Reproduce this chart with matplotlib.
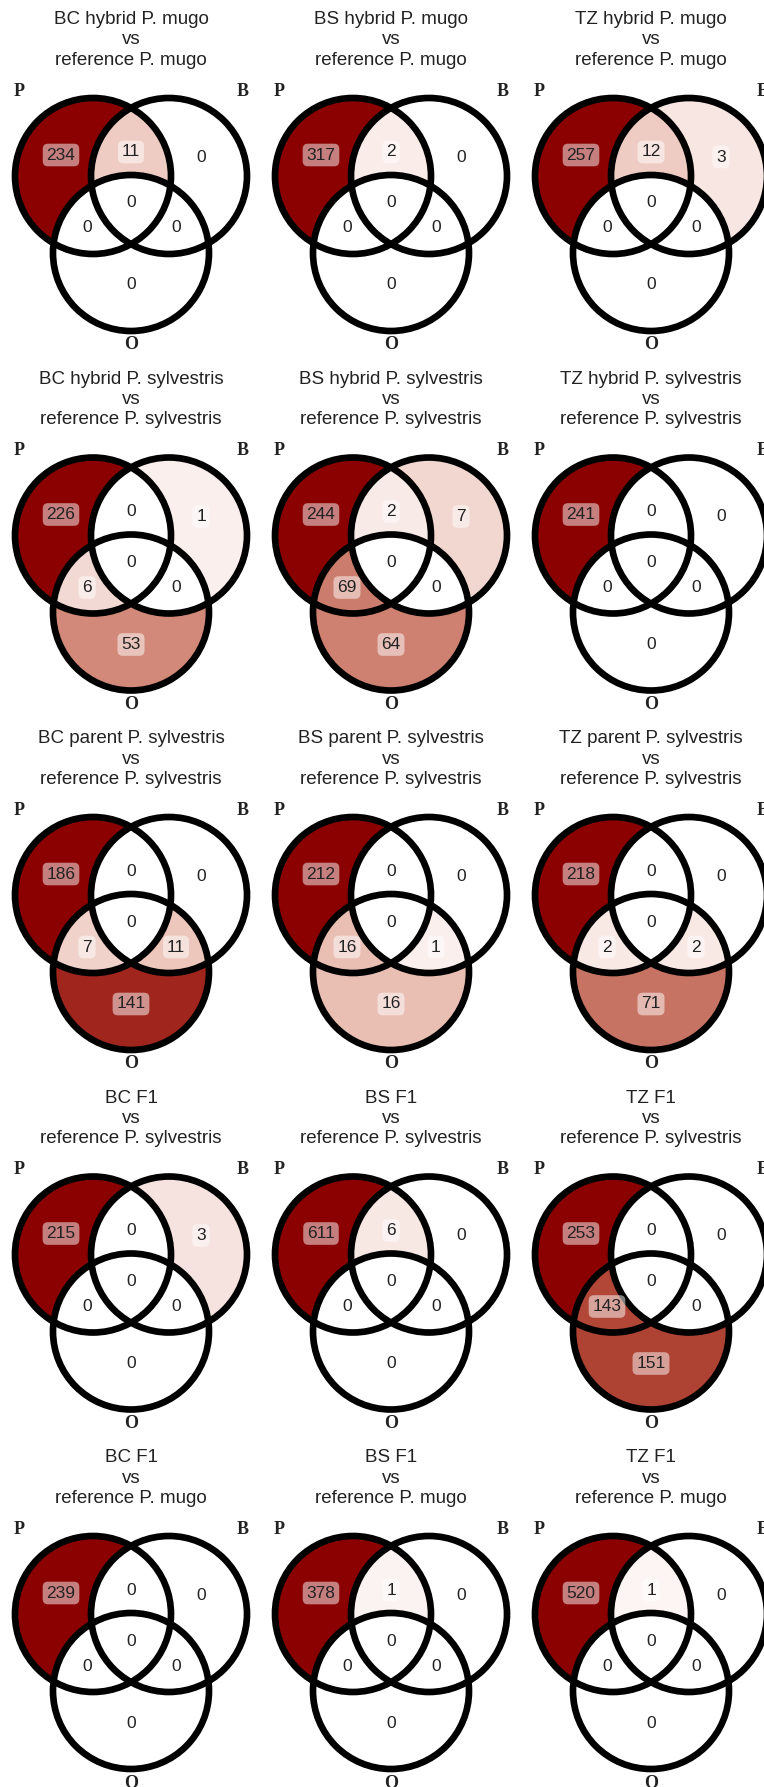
import numpy as np
import matplotlib
matplotlib.use("Agg")
import matplotlib.pyplot as plt
from matplotlib.patches import Circle, Polygon
from matplotlib.colors import LinearSegmentedColormap, PowerNorm

# Region order: P only, B only, P&B, O only, P&O, B&O, P&B&O
REGIONS = ["100", "010", "110", "001", "101", "011", "111"]

titles = [
    "BC hybrid P. mugo\nvs\nreference P. mugo",
    "BS hybrid P. mugo\nvs\nreference P. mugo",
    "TZ hybrid P. mugo\nvs\nreference P. mugo",
    "BC hybrid P. sylvestris\nvs\nreference P. sylvestris",
    "BS hybrid P. sylvestris\nvs\nreference P. sylvestris",
    "TZ hybrid P. sylvestris\nvs\nreference P. sylvestris",
    "BC parent P. sylvestris\nvs\nreference P. sylvestris",
    "BS parent P. sylvestris\nvs\nreference P. sylvestris",
    "TZ parent P. sylvestris\nvs\nreference P. sylvestris",
    "BC F1\nvs\nreference P. sylvestris",
    "BS F1\nvs\nreference P. sylvestris",
    "TZ F1\nvs\nreference P. sylvestris",
    "BC F1\nvs\nreference P. mugo",
    "BS F1\nvs\nreference P. mugo",
    "TZ F1\nvs\nreference P. mugo",
]

only_p = [234, 317, 257, 226, 244, 241, 186, 212, 218, 215, 611, 253, 239, 378, 520]
only_b = [0, 0, 3, 1, 7, 0, 0, 0, 0, 3, 0, 0, 0, 0, 0]
p_and_b = [11, 2, 12, 0, 2, 0, 0, 0, 0, 0, 6, 0, 0, 1, 1]
only_o = [0, 0, 0, 53, 64, 0, 141, 16, 71, 0, 0, 151, 0, 0, 0]
p_and_o = [0, 0, 0, 6, 69, 0, 7, 16, 2, 0, 0, 143, 0, 0, 0]
b_and_o = [0, 0, 0, 0, 0, 0, 11, 1, 2, 0, 0, 0, 0, 0, 0]
all_three = [0] * 15

set_names = ["P", "B", "O"]

cmap = LinearSegmentedColormap.from_list(
    "white_darkred",
    [(0.0, "#ffffff"), (0.25, "#ecc4ba"), (0.5, "#d08474"),
     (0.75, "#b24838"), (1.0, "#8b0000")],
)

W, H = 764, 1787
CELL_W, CELL_H = 260.0, 359.5
R = 78.0
CENTERS = {"P": np.array([93.0, 176.0]),
           "B": np.array([169.0, 176.0]),
           "O": np.array([131.0, 253.0])}
LABEL_POS = {"100": (61, 155), "010": (201, 157), "110": (131, 152),
             "001": (131, 285), "101": (87, 228), "011": (176, 228),
             "111": (131, 203)}
NAME_POS = {"P": (19, 91), "B": (243, 91), "O": (131, 345)}

TXT = "#222222"
SANS = "Liberation Sans"
SERIF = "Liberation Serif"


def intersection_polygon(names, n=1440):
    """Convex polygon of the intersection of the named circles."""
    pts = []
    th = np.linspace(0, 2 * np.pi, n, endpoint=False)
    for nm in names:
        c = CENTERS[nm]
        ring = c + R * np.column_stack([np.cos(th), np.sin(th)])
        keep = np.ones(len(ring), bool)
        for other in names:
            if other == nm:
                continue
            keep &= np.hypot(*(ring - CENTERS[other]).T) <= R + 1e-9
        pts.append(ring[keep])
    pts = np.vstack(pts)
    ctr = pts.mean(axis=0)
    order = np.argsort(np.arctan2(pts[:, 1] - ctr[1], pts[:, 0] - ctr[0]))
    return pts[order]


fig = plt.figure(figsize=(W / 100, H / 100), dpi=100)

for k in range(15):
    row, col = divmod(k, 3)
    x0, y0 = col * CELL_W, row * CELL_H
    ax = fig.add_axes([x0 / W, 1 - (y0 + CELL_H) / H, CELL_W / W, CELL_H / H])
    ax.set_xlim(0, CELL_W)
    ax.set_ylim(CELL_H, 0)
    ax.set_aspect("equal")
    ax.axis("off")

    vals = dict(zip(REGIONS, [only_p[k], only_b[k], p_and_b[k], only_o[k],
                              p_and_o[k], b_and_o[k], all_three[k]]))
    norm = PowerNorm(gamma=0.5, vmin=0, vmax=max(vals.values()))
    col_of = {key: cmap(norm(v)) for key, v in vals.items()}

    # single-set fills, then pairwise lenses, then the centre
    for nm, key in zip(set_names, ["100", "010", "001"]):
        ax.add_patch(Circle(CENTERS[nm], R, fc=col_of[key], ec="none", zorder=1))
    for pair, key in [(("P", "B"), "110"), (("P", "O"), "101"), (("B", "O"), "011")]:
        ax.add_patch(Polygon(intersection_polygon(pair), closed=True,
                             fc=col_of[key], ec="none", zorder=2))
    ax.add_patch(Polygon(intersection_polygon(("P", "B", "O")), closed=True,
                         fc=col_of["111"], ec="none", zorder=3))

    for nm in set_names:
        ax.add_patch(Circle(CENTERS[nm], R, fc="none", ec="black", lw=4.8, zorder=4))

    for key, v in vals.items():
        ax.text(*LABEL_POS[key], str(v), ha="center", va="center", fontsize=12.5,
                family=SANS, color=TXT, zorder=5,
                bbox=dict(boxstyle="round,pad=0.22,rounding_size=0.3",
                          fc="white", ec="none", alpha=0.5))

    for nm in set_names:
        ax.text(*NAME_POS[nm], nm, ha="center", va="center", fontsize=13,
                family=SERIF, weight="bold", color=TXT, zorder=5)

    ax.text(131, 40, titles[k], ha="center", va="center", fontsize=13.5,
            family=SANS, color=TXT, linespacing=1.25, zorder=5)

fig.savefig("out.png", dpi=100, facecolor="white")
